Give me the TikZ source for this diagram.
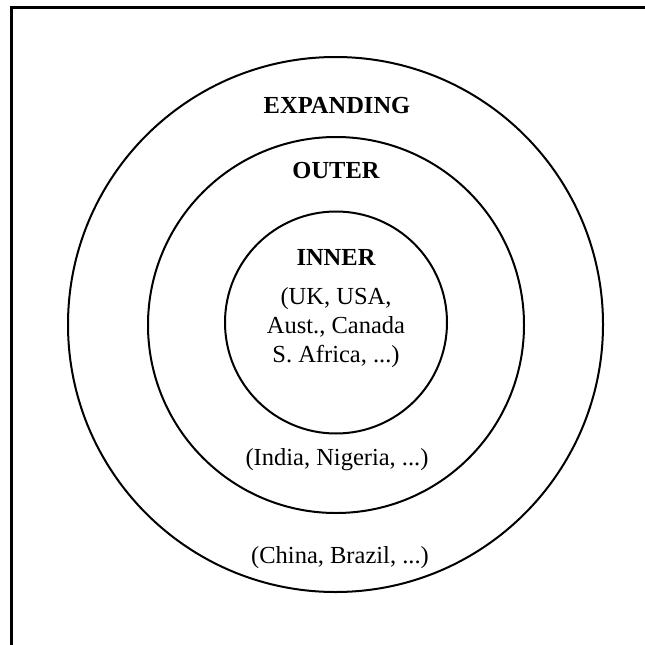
\documentclass[tikz,border=0pt]{standalone}
\usepackage{fontspec}
\setmainfont{Liberation Serif}
\begin{document}
\begin{tikzpicture}[x=1pt,y=-1pt,
  ring/.style={draw=black,line width=2pt},
  lbl/.style={anchor=base,inner sep=0pt,font=\fontsize{24.5}{29}\selectfont},
  title/.style={lbl,font=\fontsize{24.5}{29}\selectfont\bfseries}]
\useasboundingbox (0,0) rectangle (645,645);
\clip (0,0) rectangle (645,645);
\draw[line width=3pt] (11.5,660) -- (11.5,7.5) -- (660,7.5);
\node[ring,circle,minimum size=535pt,inner sep=0pt] (expanding) at (335.5,324.5) {};
\node[ring,circle,minimum size=376pt,inner sep=0pt] (outer) at (336,325) {};
\node[ring,circle,minimum size=222pt,inner sep=0pt] (inner) at (336,322.5) {};
\node[title] (t1) at (337,113) {EXPANDING};
\node[title] (t2) at (336,178) {OUTER};
\node[title] (t3) at (336,265) {INNER};
\node[lbl] (i1) at (336,304) {(UK, USA,};
\node[lbl] (i2) at (336,333) {Aust., Canada};
\node[lbl] (i3) at (336,362) {S. Africa, ...)};
\node[lbl] (o1) at (337,465) {(India, Nigeria, ...)};
\node[lbl] (e1) at (340,563) {(China, Brazil, ...)};
\end{tikzpicture}
\end{document}
